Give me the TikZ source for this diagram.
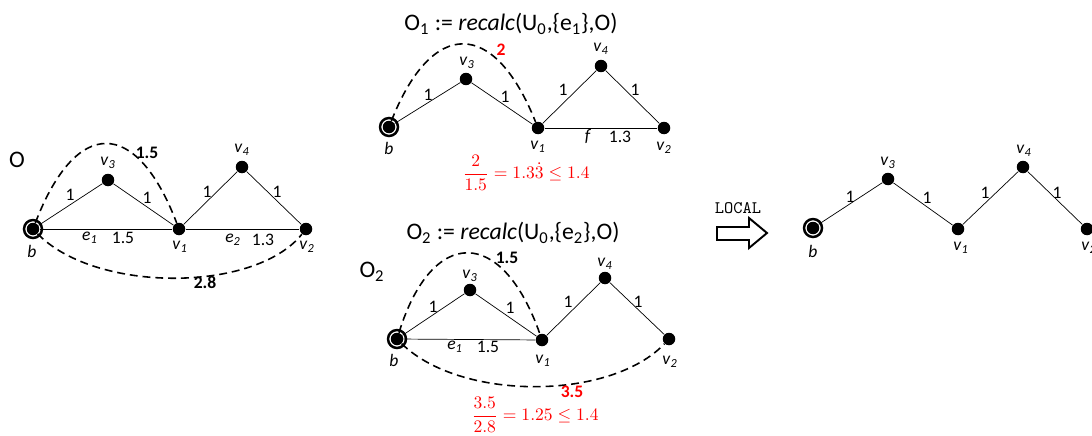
\documentclass[tikz,border=0pt]{standalone}
\usepackage{fontspec}
\setmainfont{Carlito}
\newcommand{\vl}[1]{\textit{v}\textsubscript{\textit{#1}}}
\begin{document}
\begin{tikzpicture}[x=0.02cm, y=-0.02cm,
    dot/.style={circle, fill=black, inner sep=0pt, minimum size=0.25cm},
    lab/.style={font=\fontsize{10}{12}\selectfont, inner sep=1pt},
    vlab/.style={font=\fontsize{10}{12}\selectfont, inner sep=0pt},
    big/.style={font=\fontsize{13.5}{16}\selectfont, inner sep=0pt},
    arc/.style={line width=0.9pt, dash pattern=on 4.5pt off 2.8pt},
    ring/.style={line width=1.4pt}]
    \useasboundingbox (0,0) rectangle (1092,436);

    % graph O (left)
    \node[dot] (Ob) at (33,229) {};
    \node[dot] (Ov3) at (108,180) {};
    \node[dot] (Ov1) at (179,229) {};
    \node[dot] (Ov4) at (242,167) {};
    \node[dot] (Ov2) at (306,229) {};
    \draw[ring] (Ob) circle (0.18cm);
    \draw (Ob) -- (Ov3) -- (Ov1) -- (Ov4) -- (Ov2);
    \draw (Ob) -- (Ov1) -- (Ov2);
    \draw[arc] (Ob) .. controls (76,117) and (136,117) .. (Ov1);
    \draw[arc] (Ob) .. controls (95,293) and (255,293) .. (Ov2);
    \node[big] (Oname) at (17,160) {O};
    \node[vlab] (Obl) at (32,251) {\textit{b}};
    \node[vlab] (Ov3l) at (108,163) {\vl{3}};
    \node[vlab] (Ov1l) at (180,247) {\vl{1}};
    \node[vlab] (Ov4l) at (242,150) {\vl{4}};
    \node[vlab] (Ov2l) at (307,247) {\vl{2}};
    \node[lab] (Oe1) at (70,195) {1};
    \node[lab] (Oe2) at (147,198) {1};
    \node[lab] (Oe3) at (207,192) {1};
    \node[lab] (Oe4) at (277,192) {1};
    \node[lab] (Oe5) at (90,238) {\textit{e\textsubscript{1}}};
    \node[lab] (Oe6) at (123,238) {1.5};
    \node[lab] (Oe7) at (233,240) {\textit{e\textsubscript{2}}};
    \node[lab] (Oe8) at (263,240) {1.3};
    \node[lab, font=\fontsize{10}{12}\selectfont\bfseries] (Oc1) at (147,153) {1.5};
    \node[lab, font=\fontsize{10}{12}\selectfont\bfseries] (Oc2) at (205,282) {2.8};

    % graph O1 (top middle)
    \node[big] (Aname) at (511,24) {O\textsubscript{1} := \textit{recalc}(U\textsubscript{0},\{e\textsubscript{1}\},O)};
    \node[dot] (Ab) at (389,127) {};
    \node[dot] (Av3) at (466,79) {};
    \node[dot] (Av1) at (538,128) {};
    \node[dot] (Av4) at (601,66) {};
    \node[dot] (Av2) at (664,128) {};
    \draw[ring] (Ab) circle (0.18cm);
    \draw (Ab) -- (Av3) -- (Av1) -- (Av4) -- (Av2);
    \draw (Av1) -- (Av2);
    \draw[arc] (Ab) .. controls (432,18) and (494,18) .. (Av1);
    \node[vlab] (Abl) at (389,148) {\textit{b}};
    \node[vlab] (Av3l) at (467,63) {\vl{3}};
    \node[vlab] (Av1l) at (538,147) {\vl{1}};
    \node[vlab] (Av4l) at (601,49) {\vl{4}};
    \node[vlab] (Av2l) at (664,148) {\vl{2}};
    \node[lab] (Ae1) at (428,95) {1};
    \node[lab] (Ae2) at (505,97) {1};
    \node[lab] (Ae3) at (563,90) {1};
    \node[lab] (Ae4) at (635,90) {1};
    \node[lab] (Ae5) at (588,137) {\textit{f}};
    \node[lab] (Ae6) at (620,137) {1.3};
    \node[lab, red, font=\fontsize{10}{12}\selectfont\bfseries] (Ac1) at (501,50) {2};
    \node[red, inner sep=0pt] (Afrac) at (526,173)
        {$\displaystyle\frac{2}{1.5} = 1.3\dot{3} \leq 1.4$};

    % graph O2 (bottom middle)
    \node[big] (Bname) at (513,233) {O\textsubscript{2} := \textit{recalc}(U\textsubscript{0},\{e\textsubscript{2}\},O)};
    \node[big] (Bname2) at (372,272) {O\textsubscript{2}};
    \node[dot] (Bb) at (397,339) {};
    \node[dot] (Bv3) at (470,290) {};
    \node[dot] (Bv1) at (542,340) {};
    \node[dot] (Bv4) at (605,278) {};
    \node[dot] (Bv2) at (669,339) {};
    \draw[ring] (Bb) circle (0.18cm);
    \draw (Bb) -- (Bv3) -- (Bv1) -- (Bv4) -- (Bv2);
    \draw (Bb) -- (Bv1);
    \draw[arc] (Bb) .. controls (432,226) and (502,226) .. (Bv1);
    \draw[arc] (Bb) .. controls (460,401) and (610,401) .. (Bv2);
    \node[vlab] (Bbl) at (394,360) {\textit{b}};
    \node[vlab] (Bv3l) at (470,276) {\vl{3}};
    \node[vlab] (Bv1l) at (543,361) {\vl{1}};
    \node[vlab] (Bv4l) at (605,264) {\vl{4}};
    \node[vlab] (Bv2l) at (670,362) {\vl{2}};
    \node[lab] (Be1) at (433,307) {1};
    \node[lab] (Be2) at (510,308) {1};
    \node[lab] (Be3) at (568,302) {1};
    \node[lab] (Be4) at (638,302) {1};
    \node[lab] (Be5) at (455,347) {\textit{e\textsubscript{1}}};
    \node[lab] (Be6) at (488,347) {1.5};
    \node[lab, font=\fontsize{10}{12}\selectfont\bfseries] (Bc1) at (507,258) {1.5};
    \node[lab, red, font=\fontsize{10}{12}\selectfont\bfseries] (Bc2) at (572,392) {3.5};
    \node[red, inner sep=0pt] (Bfrac) at (535,415)
        {$\displaystyle\frac{3.5}{2.8} = 1.25 \leq 1.4$};

    % LOCAL arrow
    \node[font=\fontsize{10}{12}\ttfamily, inner sep=0pt] (local) at (738,208) {LOCAL};
    \draw[line width=1.1pt] (717,227) -- (749,227) -- (749,218) -- (767,233)
        -- (749,248) -- (749,240) -- (717,240) -- cycle;

    % result graph (right)
    \node[dot] (Cb) at (813,228) {};
    \node[dot] (Cv3) at (888,179) {};
    \node[dot] (Cv1) at (958,229) {};
    \node[dot] (Cv4) at (1023,167) {};
    \node[dot] (Cv2) at (1087,229) {};
    \draw[ring] (Cb) circle (0.18cm);
    \draw (Cb) -- (Cv3) -- (Cv1) -- (Cv4) -- (Cv2);
    \node[vlab] (Cbl) at (813,251) {\textit{b}};
    \node[vlab] (Cv3l) at (888,163) {\vl{3}};
    \node[vlab] (Cv1l) at (961,248) {\vl{1}};
    \node[vlab] (Cv4l) at (1024,151) {\vl{4}};
    \node[vlab] (Cv2l) at (1089,248) {\vl{2}};
    \node[lab] (Ce1) at (850,197) {1};
    \node[lab] (Ce2) at (927,198) {1};
    \node[lab] (Ce3) at (985,193) {1};
    \node[lab] (Ce4) at (1057,193) {1};
\end{tikzpicture}
\end{document}
